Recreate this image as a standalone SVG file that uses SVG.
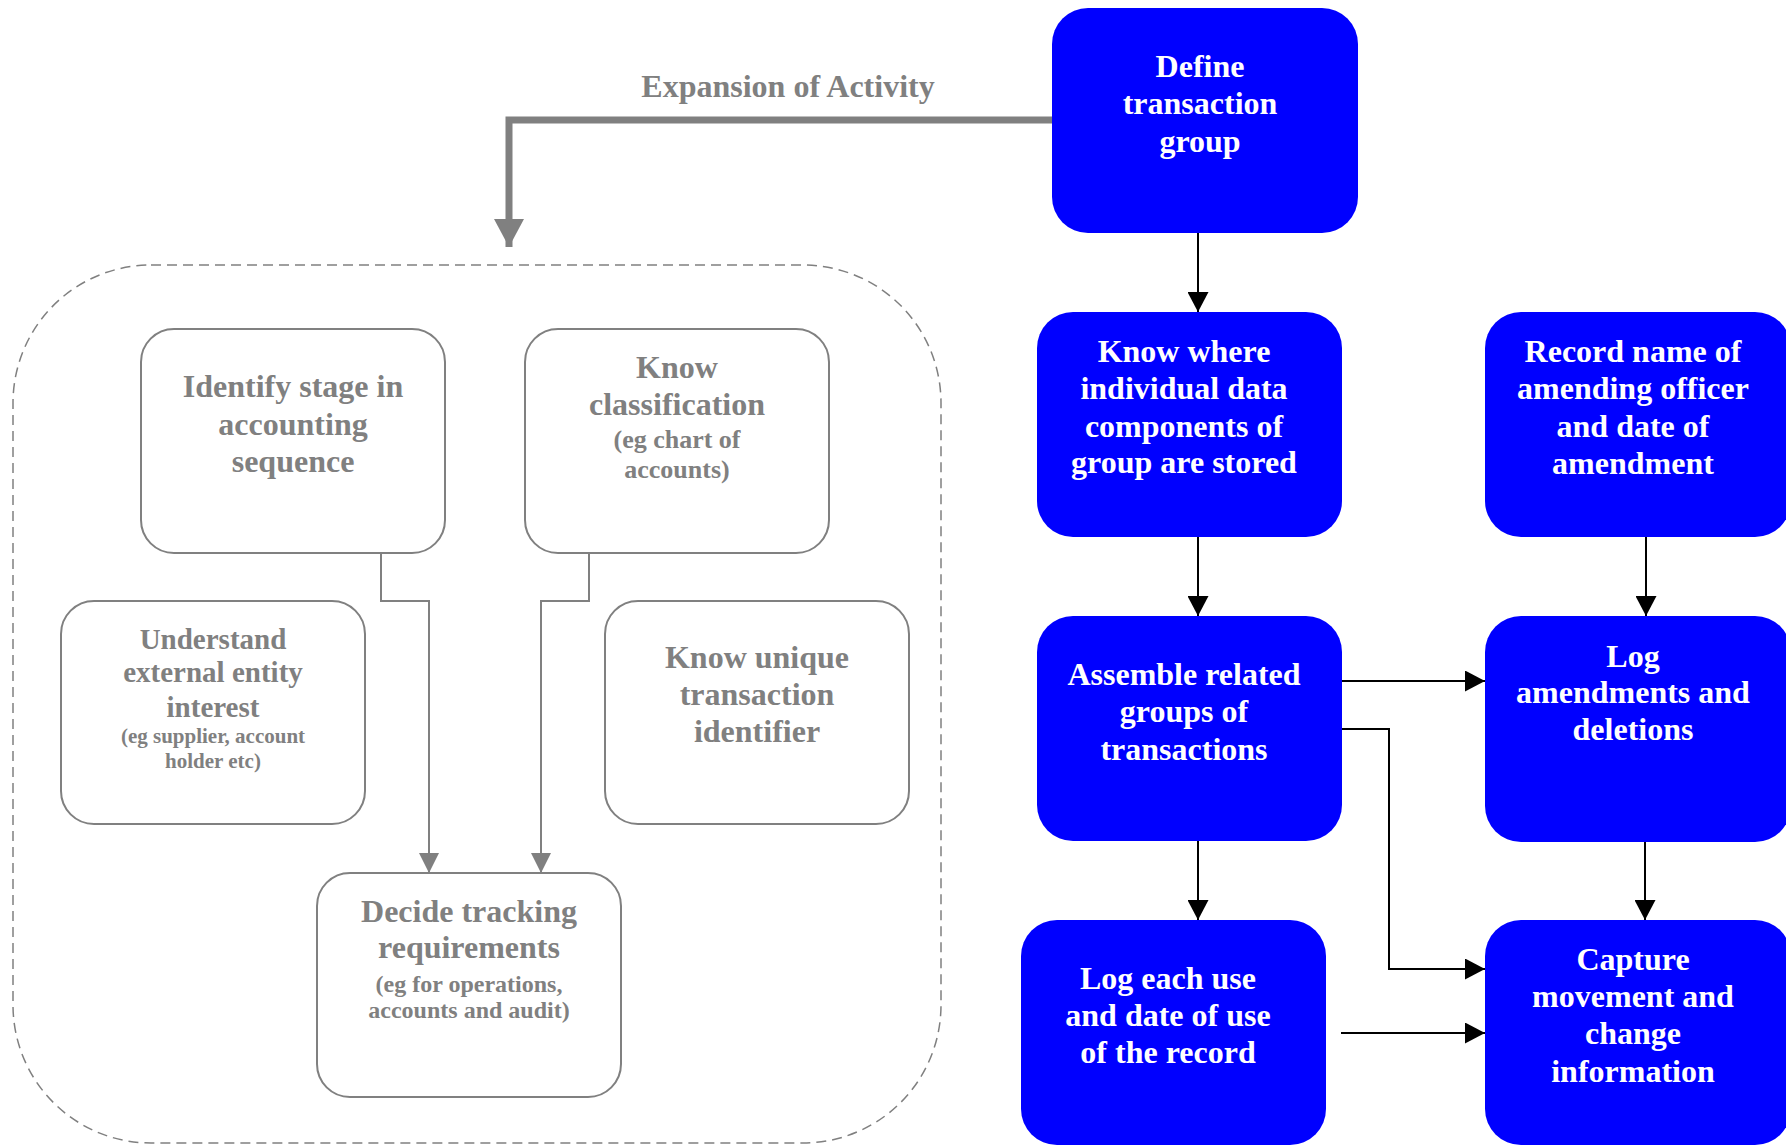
<svg xmlns="http://www.w3.org/2000/svg" width="1786" height="1145" viewBox="0 0 1786 1145">
<style>
text{font-family:"Liberation Serif","Times New Roman",serif;font-weight:bold;text-anchor:middle}
.blue rect{fill:#0000FF;stroke:none}
.blue text{fill:#FFFFFF;font-size:32px}
.grey rect{fill:#FFFFFF;stroke:#808080;stroke-width:2}
.grey text{fill:#808080;font-size:32px}
.grey text.s29{font-size:29px}
.grey text.s26{font-size:26px}
.grey text.s24{font-size:24px}
.grey text.s21{font-size:21px}
.title{fill:#808080;font-size:32px}
.conn{fill:none;stroke:#000000;stroke-width:2}
.gconn{fill:none;stroke:#808080;stroke-width:2}
</style>
<defs>
<marker id="ab" markerUnits="userSpaceOnUse" markerWidth="20" markerHeight="21" refX="20" refY="10.5" orient="auto">
<path d="M0,0 L20,10.5 L0,21 z" fill="#000000"/>
</marker>
<marker id="ag" markerUnits="userSpaceOnUse" markerWidth="20" markerHeight="20" refX="20" refY="10" orient="auto">
<path d="M0,0 L20,10 L0,20 z" fill="#808080"/>
</marker>
<marker id="agb" markerUnits="userSpaceOnUse" markerWidth="28" markerHeight="30" refX="28" refY="15" orient="auto">
<path d="M0,0 L28,15 L0,30 z" fill="#808080"/>
</marker>
</defs>

<rect id="container" x="13" y="265" width="928" height="878" rx="138" ry="138" fill="none" stroke="#808080" stroke-width="1.5" stroke-dasharray="10 6"/>

<text class="title" x="788" y="97">Expansion of Activity</text>

<g id="connectors">
<path d="M1052,120 H509 V247" fill="none" stroke="#808080" stroke-width="7" marker-end="url(#agb)"/>
<path class="gconn" d="M381,553 V601 H429 V873" marker-end="url(#ag)"/>
<path class="gconn" d="M589,553 V601 H541 V873" marker-end="url(#ag)"/>
<path class="conn" d="M1198,233 V312" marker-end="url(#ab)"/>
<path class="conn" d="M1198,537 V616" marker-end="url(#ab)"/>
<path class="conn" d="M1198,841 V920" marker-end="url(#ab)"/>
<path class="conn" d="M1646,537 V616" marker-end="url(#ab)"/>
<path class="conn" d="M1645,842 V920" marker-end="url(#ab)"/>
<path class="conn" d="M1342,681 H1485" marker-end="url(#ab)"/>
<path class="conn" d="M1342,729 H1389 V969 H1485" marker-end="url(#ab)"/>
<path class="conn" d="M1341,1033 H1485" marker-end="url(#ab)"/>
</g>

<g id="identify-stage" class="grey">
<rect x="141" y="329" width="304" height="224" rx="33" ry="33"/>
<text x="293" y="397">Identify stage in</text>
<text x="293" y="435">accounting</text>
<text x="293" y="472">sequence</text>
</g>

<g id="know-classification" class="grey">
<rect x="525" y="329" width="304" height="224" rx="33" ry="33"/>
<text x="677" y="378">Know</text>
<text x="677" y="415">classification</text>
<text class="s26" x="677" y="448">(eg chart of</text>
<text class="s26" x="677" y="478">accounts)</text>
</g>

<g id="understand-external" class="grey">
<rect x="61" y="601" width="304" height="223" rx="33" ry="33"/>
<text class="s29" x="213" y="649">Understand</text>
<text class="s29" x="213" y="682">external entity</text>
<text class="s29" x="213" y="717">interest</text>
<text class="s21" x="213" y="743">(eg supplier, account</text>
<text class="s21" x="213" y="768">holder etc)</text>
</g>

<g id="know-unique" class="grey">
<rect x="605" y="601" width="304" height="223" rx="33" ry="33"/>
<text x="757" y="668">Know unique</text>
<text x="757" y="705">transaction</text>
<text x="757" y="742">identifier</text>
</g>

<g id="decide-tracking" class="grey">
<rect x="317" y="873" width="304" height="224" rx="33" ry="33"/>
<text x="469" y="922">Decide tracking</text>
<text x="469" y="958">requirements</text>
<text class="s24" x="469" y="992">(eg for operations,</text>
<text class="s24" x="469" y="1018">accounts and audit)</text>
</g>

<g id="define-group" class="blue">
<rect x="1052" y="8" width="306" height="225" rx="36" ry="36"/>
<text x="1200" y="77">Define</text>
<text x="1200" y="114">transaction</text>
<text x="1200" y="152">group</text>
</g>

<g id="know-where" class="blue">
<rect x="1037" y="312" width="305" height="225" rx="36" ry="36"/>
<text x="1184" y="362">Know where</text>
<text x="1184" y="399">individual data</text>
<text x="1184" y="437">components of</text>
<text x="1184" y="473">group are stored</text>
</g>

<g id="record-name" class="blue">
<rect x="1485" y="312" width="306" height="225" rx="36" ry="36"/>
<text x="1633" y="362">Record name of</text>
<text x="1633" y="399">amending officer</text>
<text x="1633" y="437">and date of</text>
<text x="1633" y="474">amendment</text>
</g>

<g id="assemble-groups" class="blue">
<rect x="1037" y="616" width="305" height="225" rx="36" ry="36"/>
<text x="1184" y="685">Assemble related</text>
<text x="1184" y="722">groups of</text>
<text x="1184" y="760">transactions</text>
</g>

<g id="log-amendments" class="blue">
<rect x="1485" y="616" width="306" height="226" rx="36" ry="36"/>
<text x="1633" y="667">Log</text>
<text x="1633" y="703">amendments and</text>
<text x="1633" y="740">deletions</text>
</g>

<g id="log-each-use" class="blue">
<rect x="1021" y="920" width="305" height="225" rx="36" ry="36"/>
<text x="1168" y="989">Log each use</text>
<text x="1168" y="1026">and date of use</text>
<text x="1168" y="1063">of the record</text>
</g>

<g id="capture-movement" class="blue">
<rect x="1485" y="920" width="306" height="225" rx="36" ry="36"/>
<text x="1633" y="970">Capture</text>
<text x="1633" y="1007">movement and</text>
<text x="1633" y="1044">change</text>
<text x="1633" y="1082">information</text>
</g>
</svg>
